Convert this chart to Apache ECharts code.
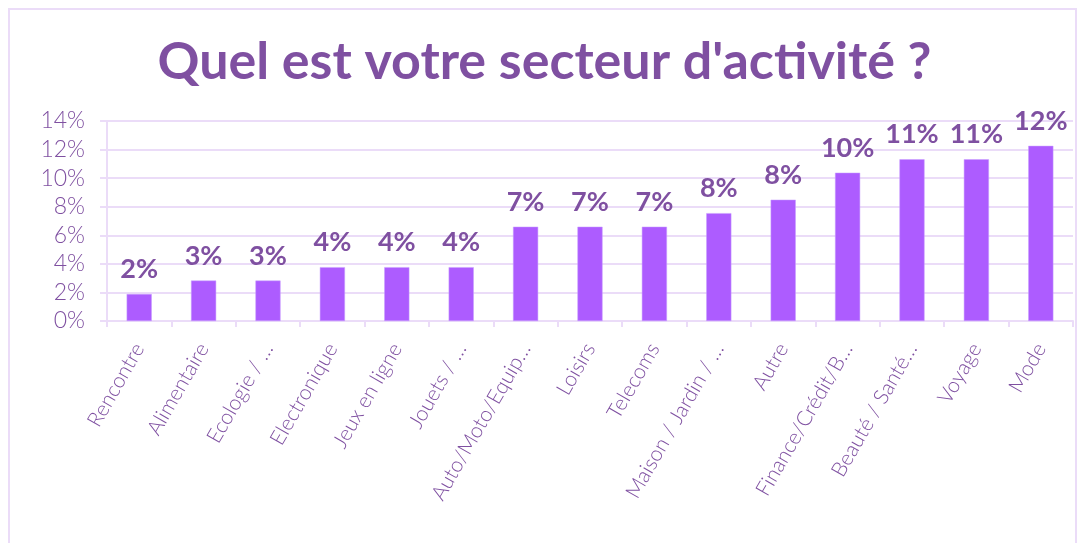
<!DOCTYPE html>
<html>
<head>
<meta charset="utf-8">
<script src="https://cdn.jsdelivr.net/npm/echarts@6/dist/echarts.min.js"></script>
<style>
  html, body { margin: 0; padding: 0; background: #ffffff; }
  #frame {
    position: absolute; left: 8px; top: 8px; width: 1069px; height: 545px;
    border: 2px solid #ebdcf8; box-sizing: border-box;
  }
  #chart { position: absolute; left: 0; top: 0; width: 1089px; height: 543px; }
</style>
</head>
<body>
<div id="frame"></div>
<div id="chart"></div>
<script>
// secteurs (libellés tels qu'affichés, tronqués)
const categories = [
  'Rencontre', 'Alimentaire', 'Ecologie / …', 'Electronique', 'Jeux en ligne',
  'Jouets / …', 'Auto/Moto/Equip…', 'Loisirs', 'Telecoms', 'Maison / Jardin / …',
  'Autre', 'Finance/Crédit/B…', 'Beauté / Santé…', 'Voyage', 'Mode'
]
// part des répondants, en %
const values = [1.89, 2.83, 2.83, 3.77, 3.77, 3.77, 6.6, 6.6, 6.6, 7.55, 8.49, 10.38, 11.32, 11.32, 12.26]
const yTicks = { min: 0, max: 14, interval: 2 }

const purple = '#7f50a1'
const bar = '#ad5cff'
const grid = '#ebdcf8'
const font = 'Lato'

const chart = echarts.init(document.getElementById('chart'))
chart.setOption({
  backgroundColor: 'transparent',
  title: {
    text: "Quel est votre secteur d'activité ?",
    left: 'center',
    top: 31,
    textStyle: {
      fontFamily: font,
      fontWeight: 'bold',
      fontSize: 52,
      color: purple
    }
  },
  grid: { // zone du graphique
    left: 107,
    right: 16,
    top: 121,
    bottom: 222
  },
  xAxis: {
    type: 'category',
    data: categories,
    axisLine: { lineStyle: { color: grid, width: 2 } },
    axisTick: { show: true, length: 6, lineStyle: { color: grid, width: 2 } },
    axisLabel: {
      rotate: 60,
      interval: 0,
      margin: 24,
      fontFamily: font,
      fontWeight: 300,
      fontSize: 21,
      color: purple
    }
  },
  yAxis: {
    type: 'value',
    min: yTicks.min,
    max: yTicks.max,
    interval: yTicks.interval,
    axisLine: { show: true, lineStyle: { color: grid, width: 2 } },
    axisTick: { show: true, length: 7, lineStyle: { color: grid, width: 2 } },
    axisLabel: {
      formatter: '{value}%',
      margin: 22,
      fontFamily: font,
      fontWeight: 300,
      fontSize: 23,
      color: purple
    },
    splitLine: { lineStyle: { color: grid, width: 2 } }
  },
  series: [{
    type: 'bar',
    data: values,
    barWidth: '39%',
    itemStyle: { color: bar, borderColor: '#c9a0ff', borderWidth: 0.5 },
    label: {
      show: true,
      position: 'top',
      distance: 11,
      fontFamily: font,
      fontWeight: 'bold',
      fontSize: 27,
      color: purple,
      formatter: p => Math.round(p.value) + '%'
    },
    animation: false
  }]
})
</script>
</body>
</html>
